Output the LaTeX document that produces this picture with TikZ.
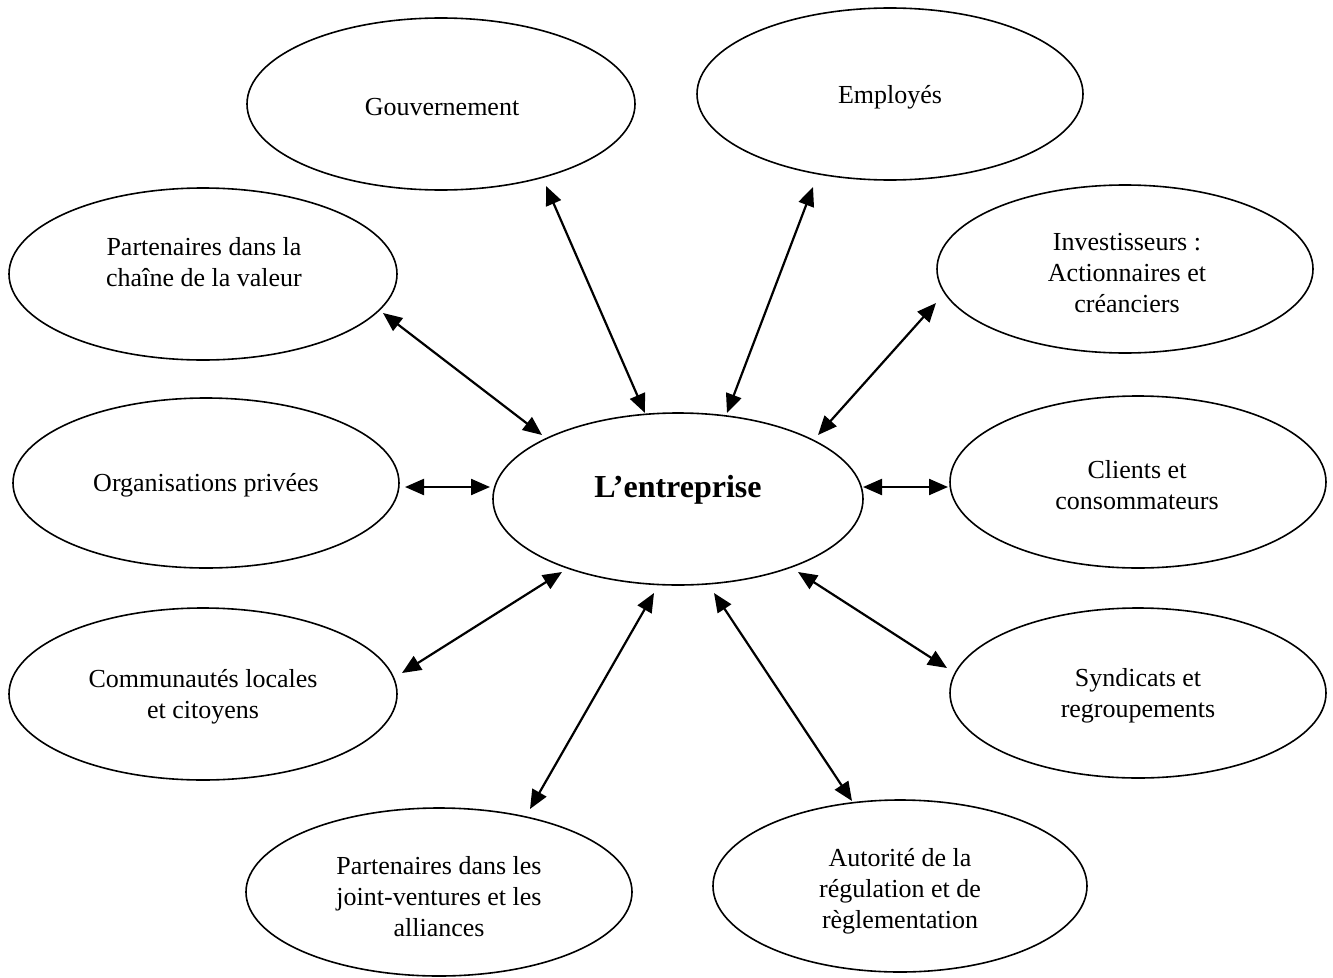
\documentclass[tikz,border=0pt]{standalone}
\usepackage{fontspec}
\setmainfont{Liberation Serif}
\usetikzlibrary{arrows.meta,shapes.geometric}
\tikzset{
  oval/.style={draw=black, line width=1.6pt, ellipse, inner sep=0pt},
  txt/.style={align=center, inner sep=0pt, font=\fontsize{26}{31}\selectfont},
  bigtxt/.style={align=center, inner sep=0pt, font=\fontsize{32}{38}\selectfont\bfseries},
  conn/.style={line width=2.2pt, {Triangle[length=19pt,width=16pt]}-{Triangle[length=19pt,width=16pt]}}
}
\begin{document}
\begin{tikzpicture}[x=1pt,y=-1pt]
\useasboundingbox (0,0) rectangle (1333,977);
% ellipses
\node[oval, minimum width=388pt, minimum height=172pt] (gouv) at (441,104) {};
\node[oval, minimum width=386pt, minimum height=172pt] (empl) at (890,94) {};
\node[oval, minimum width=388pt, minimum height=172pt] (chaine) at (203,274) {};
\node[oval, minimum width=376pt, minimum height=168pt] (invest) at (1125,269) {};
\node[oval, minimum width=386pt, minimum height=170pt] (org) at (206,483) {};
\node[oval, minimum width=370pt, minimum height=172pt] (ent) at (678,499) {};
\node[oval, minimum width=376pt, minimum height=172pt] (clients) at (1138,482) {};
\node[oval, minimum width=388pt, minimum height=172pt] (commu) at (203,694) {};
\node[oval, minimum width=376pt, minimum height=170pt] (synd) at (1138,693) {};
\node[oval, minimum width=386pt, minimum height=168pt] (joint) at (439,892) {};
\node[oval, minimum width=374pt, minimum height=172pt] (autor) at (900,886) {};
% texts
\node[txt] (tgouv) at (442,107) {Gouvernement};
\node[txt] (templ) at (890,97) {Employés};
\node[txt] (tchaine) at (204,262) {Partenaires dans la\\chaîne de la valeur};
\node[txt] (tinvest) at (1127,273) {Investisseurs :\\Actionnaires et\\créanciers};
\node[txt] (torg) at (206,485) {Organisations privées};
\node[bigtxt] (tent) at (678,490) {L’entreprise};
\node[txt] (tclients) at (1137,485) {Clients et\\consommateurs};
\node[txt] (tcommu) at (203,697) {Communautés locales\\et citoyens};
\node[txt] (tsynd) at (1138,696) {Syndicats et\\regroupements};
\node[txt] (tjoint) at (439,897) {Partenaires dans les\\joint-ventures et les\\alliances};
\node[txt] (tautor) at (900,891) {Autorité de la\\régulation et de\\règlementation};
% connector ends
\coordinate (ga) at (546,186); \coordinate (gb) at (645,413);
\coordinate (ea) at (813,187); \coordinate (eb) at (727,413);
\coordinate (ca) at (383,313); \coordinate (cb) at (542,435);
\coordinate (ia) at (936,303); \coordinate (ib) at (818,435);
\coordinate (oa) at (405,487); \coordinate (ob) at (490,487);
\coordinate (ka) at (948,487); \coordinate (kb) at (863,487);
\coordinate (ma) at (402,673); \coordinate (mb) at (562,572);
\coordinate (sa) at (947,668); \coordinate (sb) at (798,572);
\coordinate (ja) at (530,809); \coordinate (jb) at (654,593);
\coordinate (aa) at (852,801); \coordinate (ab) at (714,593);
% connectors
\draw[conn] (ga) -- (gb);
\draw[conn] (ea) -- (eb);
\draw[conn] (ca) -- (cb);
\draw[conn] (ia) -- (ib);
\draw[conn] (oa) -- (ob);
\draw[conn] (ka) -- (kb);
\draw[conn] (ma) -- (mb);
\draw[conn] (sa) -- (sb);
\draw[conn] (ja) -- (jb);
\draw[conn] (aa) -- (ab);
\end{tikzpicture}
\end{document}
